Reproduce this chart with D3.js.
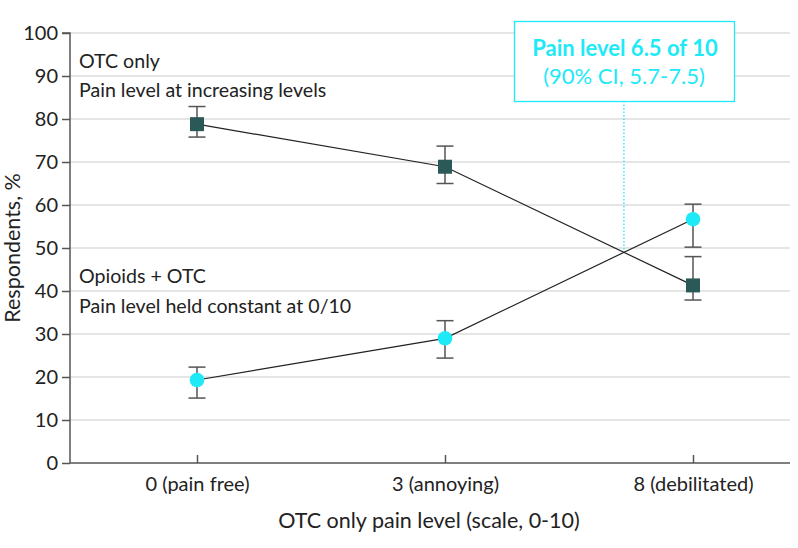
<!DOCTYPE html>
<html><head><meta charset="utf-8">
<script src="https://cdn.jsdelivr.net/npm/d3@7"></script>
<style>body{margin:0;background:#fff}svg{display:block}text{font-family:Lato,"Noto Sans",sans-serif;fill:#222}</style>
</head><body>
<script>
const categories = ["0 (pain free)", "3 (annoying)", "8 (debilitated)"];
const otcOnly = [78.8, 68.9, 41.3];
const otcOnlyLow = [75.8, 65.0, 37.9];
const otcOnlyHigh = [82.9, 73.7, 48.0];
const opioidsOtc = [19.3, 29.0, 56.7];
const opioidsOtcLow = [15.1, 24.4, 50.2];
const opioidsOtcHigh = [22.3, 33.1, 60.2];
const yTicks = [0,10,20,30,40,50,60,70,80,90,100];

const W=798,H=548;
const svg=d3.select("body").append("svg").attr("width",W).attr("height",H);
const plotL=70, plotR=790, y0=463, y1=33;
const x=d3.scalePoint().domain(categories).range([197,693]);
const y=d3.scaleLinear().domain([0,100]).range([y0,y1]);
const teal="#2a5957", cyan="#1ee9f7", grey="#555";

// gridlines
svg.append("g").selectAll("line").data(yTicks.filter(d=>d>0)).join("line")
 .attr("x1",plotL).attr("x2",plotR).attr("y1",d=>y(d)).attr("y2",d=>y(d))
 .attr("stroke","#dcdcdc").attr("stroke-width",1.5);

// y axis
const ya=svg.append("g").attr("transform",`translate(${plotL},0)`).call(d3.axisLeft(y).tickValues(yTicks).tickSize(8).tickPadding(4));
ya.selectAll("text").style("font-size","20px").attr("fill","#222");
ya.selectAll("line,path").attr("stroke",grey).attr("stroke-width",1.5);
ya.select(".domain").attr("d",`M-8,${y1}H0V${y0}`);

// x axis
const xa=svg.append("g").attr("transform",`translate(0,${y0})`).call(d3.axisBottom(x).tickSize(-8).tickPadding(14));
xa.selectAll("text").style("font-size","20px").attr("fill","#222");
xa.selectAll("line,path").attr("stroke",grey).attr("stroke-width",1.5);
xa.select(".domain").attr("d",`M${plotL},0H${plotR}`);

// titles
svg.append("text").attr("x",429).attr("y",528).attr("text-anchor","middle").style("font-size","21.5px").text("OTC only pain level (scale, 0-10)");
svg.append("text").attr("transform",`translate(20,${(y0+y1)/2}) rotate(-90)`).attr("text-anchor","middle").style("font-size","21.5px").text("Respondents, %");

// labels
const lab=[["OTC only",68],["Pain level at increasing levels",97],["Opioids + OTC",283],["Pain level held constant at 0/10",313]];
svg.selectAll(".lab").data(lab).join("text").attr("x",79).attr("y",d=>d[1]).style("font-size","19.6px").text(d=>d[0]);

// intersection
const s1=[x(categories[1]),y(otcOnly[1]),x(categories[2]),y(otcOnly[2])];
const s2=[x(categories[1]),y(opioidsOtc[1]),x(categories[2]),y(opioidsOtc[2])];
const m1=(s1[3]-s1[1])/(s1[2]-s1[0]), m2=(s2[3]-s2[1])/(s2[2]-s2[0]);
const ix=s1[0]+(s2[1]-s1[1])/(m1-m2), iy=s1[1]+m1*(ix-s1[0]);
svg.append("line").attr("x1",ix).attr("x2",ix).attr("y1",101).attr("y2",iy).attr("stroke",cyan).attr("stroke-width",1.3).attr("stroke-dasharray","1.5,2");

// series
function series(vals,lo,hi,shape,color){
  const g=svg.append("g");
  const pts=categories.map((c,i)=>({c,v:vals[i],lo:lo[i],hi:hi[i]}));
  g.append("path").attr("d",d3.line().x(d=>x(d.c)).y(d=>y(d.v))(pts)).attr("fill","none").attr("stroke","#222").attr("stroke-width",1.2);
  const eb=g.selectAll(".eb").data(pts).join("g");
  eb.append("line").attr("x1",d=>x(d.c)).attr("x2",d=>x(d.c)).attr("y1",d=>y(d.lo)).attr("y2",d=>y(d.hi)).attr("stroke",grey).attr("stroke-width",1.5);
  eb.append("line").attr("x1",d=>x(d.c)-8.5).attr("x2",d=>x(d.c)+8.5).attr("y1",d=>y(d.lo)).attr("y2",d=>y(d.lo)).attr("stroke",grey).attr("stroke-width",1.5);
  eb.append("line").attr("x1",d=>x(d.c)-8.5).attr("x2",d=>x(d.c)+8.5).attr("y1",d=>y(d.hi)).attr("y2",d=>y(d.hi)).attr("stroke",grey).attr("stroke-width",1.5);
  if(shape==="square") g.selectAll(".m").data(pts).join("rect").attr("x",d=>x(d.c)-7).attr("y",d=>y(d.v)-7).attr("width",14).attr("height",14).attr("fill",color);
  else g.selectAll(".m").data(pts).join("circle").attr("cx",d=>x(d.c)).attr("cy",d=>y(d.v)).attr("r",7.3).attr("fill",color);
}
series(otcOnly,otcOnlyLow,otcOnlyHigh,"square",teal);
series(opioidsOtc,opioidsOtcLow,opioidsOtcHigh,"circle",cyan);

// annotation box
svg.append("rect").attr("x",514.5).attr("y",21.5).attr("width",220).attr("height",80).attr("fill","#fff").attr("stroke",cyan).attr("stroke-width",1.3);
svg.append("text").attr("x",625).attr("y",56).attr("text-anchor","middle").style("font-size","22px").style("font-weight","bold").style("fill",cyan).text("Pain level 6.5 of 10");
svg.append("text").attr("x",624).attr("y",84).attr("text-anchor","middle").style("font-size","22px").style("fill",cyan).text("(90% CI, 5.7-7.5)");
</script>
</body></html>
